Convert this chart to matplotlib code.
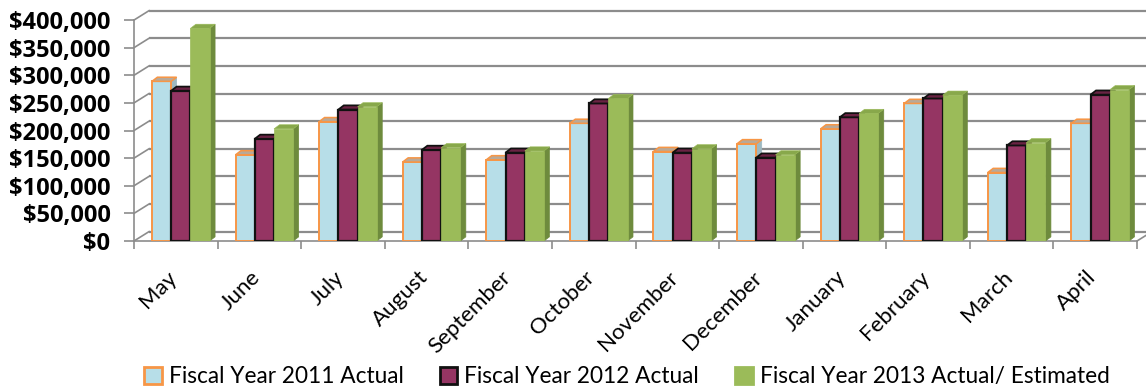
import numpy as np
import matplotlib
matplotlib.use("Agg")
import matplotlib.pyplot as plt
from matplotlib.patches import Polygon, Patch
from matplotlib.transforms import ScaledTranslation

months = ["May", "June", "July", "August", "September", "October",
          "November", "December", "January", "February", "March", "April"]

fy2011 = [289000, 156000, 216000, 143000, 147000, 213000,
          162000, 176000, 203000, 249000, 124000, 213000]
fy2012 = [272000, 185000, 238000, 165000, 160000, 249000,
          160000, 151000, 224000, 258000, 173000, 265000]
fy2013 = [385000, 203000, 243000, 169000, 163000, 258000,
          167000, 156000, 231000, 264000, 178000, 274000]

series_labels = ["Fiscal Year 2011 Actual", "Fiscal Year 2012 Actual",
                 "Fiscal Year 2013 Actual/ Estimated"]
y_ticks = [0, 50000, 100000, 150000, 200000, 250000, 300000, 350000, 400000]
y_labels = ["$0", "$50,000", "$100,000", "$150,000", "$200,000",
            "$250,000", "$300,000", "$350,000", "$400,000"]

# style per series: front face, edge, top face, side face
styles = [
    dict(face="#B7DEE8", edge="#F79646", top="#B9A998", side="#9DB8C0", lw=1.4),
    dict(face="#953563", edge="#111111", top="#6A2343", side="#5E1F3C", lw=1.6),
    dict(face="#9BBB59", edge="#9BBB59", top="#88A84B", side="#6E8B3D", lw=0.5),
]
offsets = [-0.17, 0.06, 0.29]
bar_w = 0.23

# fake 3d depth
DX, DY = 0.18, 17000       # wall/floor depth
bdx, bdy = 0.065, 7500     # bar depth

fig = plt.figure(figsize=(11.46, 3.89), dpi=100)
ax = fig.add_axes([134 / 1146, 148 / 389, 1003 / 1146, 232 / 389])
ax.set_xlim(-0.5, 11.5)
ax.set_ylim(0, 420000)

grid_c = "#8C8C8C"
# back wall gridlines + left wall diagonals
for v in y_ticks:
    ax.plot([-0.5 + DX, 11.5 + DX], [v + DY, v + DY], color=grid_c, lw=1.6,
            zorder=1, clip_on=False, solid_capstyle="butt")
    ax.plot([-0.5, -0.5 + DX], [v, v + DY], color=grid_c, lw=1.2,
            zorder=1, clip_on=False)
ax.plot([11.5, 11.5 + DX], [0, DY], color=grid_c, lw=1.2, zorder=1, clip_on=False)

x = np.arange(len(months))
for k, vals in enumerate([fy2011, fy2012, fy2013]):
    st = styles[k]
    xs = x + offsets[k]
    ax.bar(xs, vals, width=bar_w, color=st["face"], edgecolor=st["edge"],
           linewidth=st["lw"], zorder=3 + k, label=series_labels[k])
    for xc, v in zip(xs, vals):
        l, r = xc - bar_w / 2, xc + bar_w / 2
        top = Polygon([(l, v), (r, v), (r + bdx, v + bdy), (l + bdx, v + bdy)],
                      closed=True, facecolor=st["top"], edgecolor=st["edge"],
                      linewidth=st["lw"] * 0.8, zorder=3 + k)
        side = Polygon([(r, 0), (r + bdx, bdy), (r + bdx, v + bdy), (r, v)],
                       closed=True, facecolor=st["side"], edgecolor=st["side"],
                       linewidth=0.5, zorder=2.9 + k)
        ax.add_patch(side)
        ax.add_patch(top)

for s in ["top", "right"]:
    ax.spines[s].set_visible(False)
ax.spines["left"].set_bounds(0, 400000)
ax.spines["left"].set_color(grid_c)
ax.spines["left"].set_linewidth(1.2)
ax.spines["bottom"].set_color(grid_c)
ax.spines["bottom"].set_linewidth(1.2)

ax.set_yticks(y_ticks)
ax.set_yticklabels(y_labels, fontweight="bold", fontsize=17,
                   fontfamily="Open Sans")
ax.tick_params(axis="y", length=7, width=1.2, color=grid_c, pad=10)

ax.set_xticks(x)
ax.set_xticklabels(months, rotation=45, ha="right", va="center",
                   rotation_mode="anchor", fontsize=16, fontfamily="Lato")
ax.tick_params(axis="x", length=0, pad=24)
shift = ScaledTranslation(-2 / 100, 0, fig.dpi_scale_trans)
for t in ax.get_xticklabels():
    t.set_transform(t.get_transform() + shift)
ax.set_xticks(np.arange(-0.5, 12, 1), minor=True)
ax.tick_params(axis="x", which="minor", length=6, width=1.2, color=grid_c)

handles = [Patch(facecolor=s["face"], edgecolor=s["edge"], linewidth=2)
           for s in styles]
fig.legend(handles, series_labels, loc="center", ncol=3,
           bbox_to_anchor=(0.547, 0.031), frameon=False,
           prop=dict(family="Lato", size=16.3),
           handlelength=0.78, handleheight=0.78, handletextpad=0.3,
           columnspacing=1.6, borderpad=0)

fig.savefig("out.png", dpi=100)
